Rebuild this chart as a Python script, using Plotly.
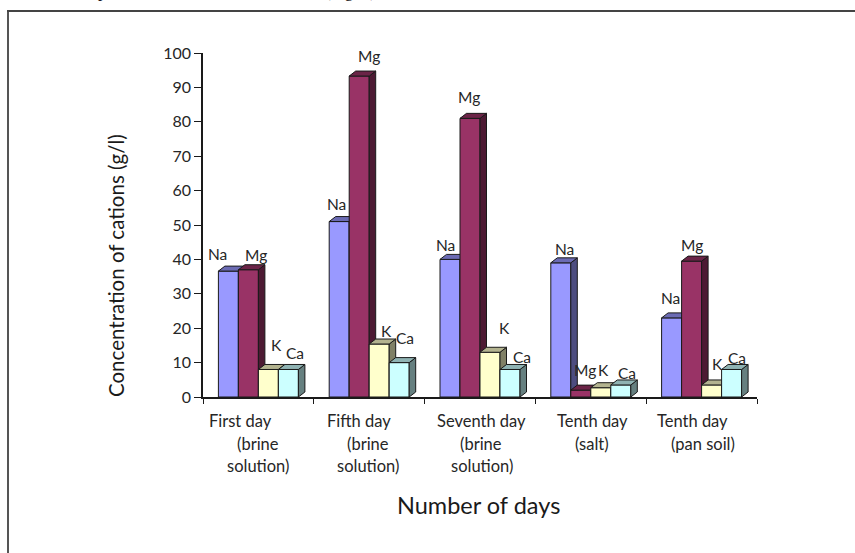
import plotly.graph_objects as go

W, H = 855, 553
L, R, T, B = 203, 757, 53, 397  # plot-area pixel edges

series = ["Na", "Mg", "K", "Ca"]
na = [36.6, 51, 40, 39, 23]
mg = [37, 93.3, 81, 2, 39.5]
k = [8, 15.4, 13, 2.7, 3.5]
ca = [8, 10, 8, 3.5, 8]
values = [na, mg, k, ca]

front = ["#9999FF", "#993366", "#FFFFCC", "#CCFFFF"]
side = ["#4D4D80", "#4D1A33", "#808066", "#668080"]
top = ["#6B6BB3", "#6B2447", "#B3B38F", "#8FB3B3"]

# label centre pixel positions, [category][series]
label_px = [
    [(217, 254), (256, 255), (276, 345), (295, 353)],
    [(336, 204), (369, 56), (386, 331), (405, 338)],
    [(445, 245), (469, 97), (504, 328), (522, 357)],
    [(564, 249), (585, 370), (603, 370), (627, 373)],
    [(670, 298), (692, 245), (717, 364), (737, 358)],
]

# category text lines: (text, centre pixel x)
cat_lines = [
    [("First day", 240), ("(brine", 258), ("solution)", 258)],
    [("Fifth day", 359), ("(brine", 368), ("solution)", 368)],
    [("Seventh day", 481), ("(brine", 481), ("solution)", 482)],
    [("Tenth day", 592), ("(salt)", 592)],
    [("Tenth day", 692), ("(pan soil)", 703)],
]
line_y = [421, 444, 466]
y_ticks = list(range(0, 101, 10))
x_ticks = list(range(0, 6))

BAR_W = 20 / 110.8
DX = 6.5 / 110.8
DY = 5 / 3.44
INK = "#1a1a1a"
TXT = "#262626"
FONT = "Lato, 'Open Sans', sans-serif"


def px(x):
    return (x - L) / (R - L)


def py(y):
    return (B - y) / (B - T)


fig = go.Figure()
annotations = []
for j, name in enumerate(series):
    sfx = "" if j == 0 else str(j + 1)
    xs = [i + 0.5 + (j - 1.5) * BAR_W for i in range(5)]
    fig.add_trace(go.Bar(x=xs, y=values[j], width=BAR_W, name=name, marker=dict(color=front[j], line=dict(color=INK, width=1)), xaxis="x" + sfx, yaxis="y" + sfx, showlegend=False, hoverinfo="skip"))
    sx, sy, tx, ty = [], [], [], []
    for x, v in zip(xs, values[j]):
        x1 = x + BAR_W / 2
        x0 = x - BAR_W / 2
        sx += [x1, x1 + DX, x1 + DX, x1, x1, None]
        sy += [0, DY, v + DY, v, 0, None]
        tx += [x0, x0 + DX, x1 + DX, x1, x0, None]
        ty += [v, v + DY, v + DY, v, v, None]
    for fx, fy, col in ((sx, sy, side[j]), (tx, ty, top[j])):
        fig.add_trace(go.Scatter(x=fx, y=fy, mode="lines", fill="toself", fillcolor=col, line=dict(color=INK, width=1), xaxis="x" + sfx, yaxis="y" + sfx, showlegend=False, hoverinfo="skip"))
    for i in range(5):
        lx, ly = label_px[i][j]
        annotations.append(dict(text=name, xref="paper", yref="paper", x=px(lx), y=py(ly), showarrow=False, font=dict(family=FONT, size=15.5, color=TXT), xanchor="center", yanchor="middle"))

for lines in cat_lines:
    for (t, cx), ly in zip(lines, line_y):
        annotations.append(dict(text=t, xref="paper", yref="paper", x=px(cx), y=py(ly), showarrow=False, font=dict(family=FONT, size=16.5, color=TXT), xanchor="center", yanchor="middle"))

annotations.append(dict(text="Number of days", xref="paper", yref="paper", x=px(478), y=py(505), showarrow=False, font=dict(family=FONT, size=23.5, color="#1a1a1a"), xanchor="center", yanchor="middle"))
annotations.append(dict(text="Concentration of cations (g/l)", xref="paper", yref="paper", x=px(116), y=py(266), textangle=-90, showarrow=False, font=dict(family=FONT, size=20.5, color="#1a1a1a"), xanchor="center", yanchor="middle"))
for t, cx in (("p", 102), ("(Fig. 2)", 350)):
    annotations.append(dict(text=t, xref="paper", yref="paper", x=px(cx), y=py(3), showarrow=False, font=dict(family="Liberation Serif", size=17, color="#111"), xanchor="center", yanchor="bottom"))

shapes = [
    dict(type="line", xref="paper", yref="paper", x0=px(8), x1=px(8), y0=py(11), y1=py(553), line=dict(color="#555555", width=2)),
    dict(type="line", xref="paper", yref="paper", x0=px(7), x1=px(855), y0=py(11), y1=py(11), line=dict(color="#444444", width=2)),
]

layout = dict(
    width=W, height=H, autosize=False, margin=dict(l=L, r=W - R, t=T, b=H - B),
    paper_bgcolor="white", plot_bgcolor="white", barmode="overlay", hovermode=False,
    annotations=annotations, shapes=shapes,
    xaxis=dict(range=[0, 5], tickmode="array", tickvals=x_ticks, ticktext=[""] * 6, ticks="outside", ticklen=5, tickwidth=1, tickcolor=INK, showline=True, linecolor=INK, linewidth=1.5, showgrid=False, zeroline=False),
    yaxis=dict(range=[0, 100], tickmode="array", tickvals=y_ticks, ticks="outside", ticklen=7, tickwidth=1, tickcolor=INK, showline=True, linecolor=INK, linewidth=1.5, showgrid=False, zeroline=False, tickfont=dict(family=FONT, size=16, color=TXT)),
)
for n in (2, 3, 4):
    layout[f"xaxis{n}"] = dict(range=[0, 5], overlaying="x", visible=False)
    layout[f"yaxis{n}"] = dict(range=[0, 100], overlaying="y", visible=False)
fig.update_layout(**layout)
fig.write_html("out.html", config={"displayModeBar": False}, post_script="document.body.style.margin='0';document.documentElement.style.overflow='hidden';")
